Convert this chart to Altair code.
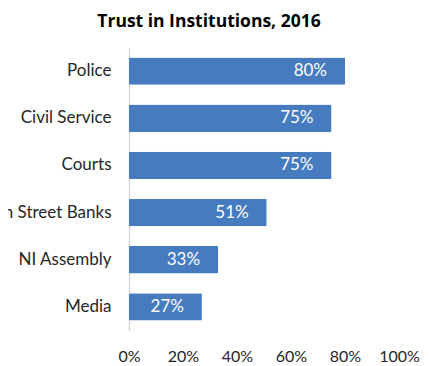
import altair as alt
import pandas as pd

categories = ["Police", "Civil Service", "Courts", "High Street Banks", "NI Assembly", "Media"]
values = [0.80, 0.75, 0.75, 0.51, 0.33, 0.27]
x_ticks = [0, 0.2, 0.4, 0.6, 0.8, 1.0]

df = pd.DataFrame({"institution": categories, "trust": values})

FONT = "Lato"
BAR = "#467cbf"

y_enc = alt.Y(
    "institution:N",
    sort=categories,
    title=None,
    scale=alt.Scale(paddingInner=0.42, paddingOuter=0.21),
    axis=alt.Axis(
        ticks=False,
        domainColor="#d9d9d9",
        domainWidth=1.5,
        labelFont=FONT,
        labelFontSize=17,
        labelColor="#262626",
        labelPadding=18,
        labelLimit=300,
    ),
)
x_enc = alt.X(
    "trust:Q",
    title=None,
    scale=alt.Scale(domain=[0, 1], nice=False),
    axis=alt.Axis(
        values=x_ticks,
        format=".0%",
        grid=False,
        domain=False,
        ticks=False,
        labelFlush=False,
        labelFont=FONT,
        labelFontSize=16,
        labelColor="#262626",
        labelPadding=18,
    ),
)

bars = alt.Chart(df).mark_bar(color=BAR, cornerRadius=1).encode(x=x_enc, y=y_enc)
labels = alt.Chart(df).mark_text(
    align="right", baseline="middle", dx=-18, color="white", font=FONT, fontSize=17
).encode(x=alt.X("trust:Q"), y=alt.Y("institution:N", sort=categories), text=alt.Text("trust:Q", format=".0%"))

chart = (
    alt.layer(bars, labels)
    .properties(
        width=270,
        height=283,
        title=alt.TitleParams(
            "Trust in Institutions, 2016",
            font="Open Sans",
            fontSize=17.5,
            fontWeight="bold",
            color="black",
            anchor="middle",
            dx=-55,
            offset=17,
        ),
        autosize=alt.AutoSizeParams(type="none"),
        padding={"left": 121, "top": 39.5, "right": 22, "bottom": 40},
    )
    .configure_view(stroke=None)
)

chart.save("out.html", embed_options={"renderer": "svg", "actions": False})
